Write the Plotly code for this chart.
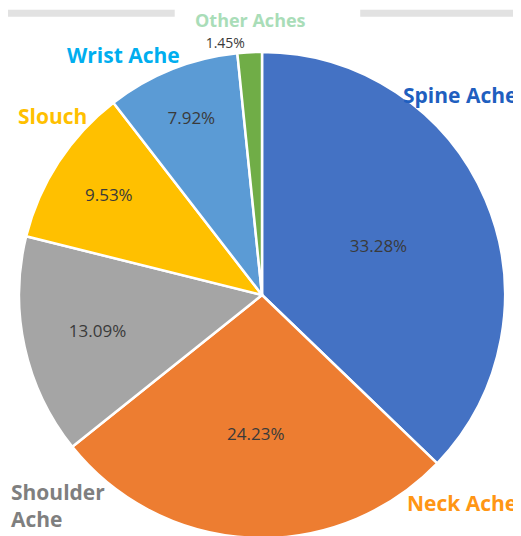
import plotly.graph_objects as go

categories = ["Spine Ache", "Neck Ache", "Shoulder Ache", "Slouch", "Wrist Ache", "Other Aches"]
percent_values = [33.28, 24.23, 13.09, 9.53, 7.92, 1.45]
slice_colors = ["#4472C4", "#ED7D31", "#A5A5A5", "#FFC000", "#5B9BD5", "#70AD47"]
label_colors = ["#1F5FBF", "#FF9614", "#7F7F7F", "#FFC000", "#00AEEF", "#A9DDB8"]
label_texts = ["Spine Ache", "Neck Ache", "Shoulder<br>Ache", "Slouch", "Wrist Ache", "Other Aches"]

pct_text = [f"{v:.2f}%" for v in percent_values]
positions = ["inside"] * (len(percent_values) - 1) + ["outside"]

fig = go.Figure()
fig.add_trace(go.Pie(
    labels=categories,
    values=percent_values,
    text=pct_text,
    textinfo="text",
    textposition=positions,
    insidetextorientation="horizontal",
    insidetextfont=dict(family="Open Sans", size=17, color="#3A3A3A"),
    outsidetextfont=dict(family="Open Sans", size=14, color="#3A3A3A"),
    marker=dict(colors=slice_colors, line=dict(color="white", width=2.5)),
    sort=False,
    direction="clockwise",
    rotation=0,
    showlegend=False,
    hoverinfo="label+text",
    domain=dict(x=[0.0211, 0.954], y=[0.0112, 0.918]),
))

# outside category labels (page body has an 8px offset, compensated here)
label_pos = [
    (0.981, 0.838, "right", 21),
    (0.981, 0.0765, "right", 21),
    (0.002, 0.071, "left", 21),
    (0.015, 0.799, "left", 21),
    (0.109, 0.912, "left", 21),
    (0.466, 0.9776, "center", 18),
]
for txt, col, (x, y, xa, fs) in zip(label_texts, label_colors, label_pos):
    fig.add_annotation(
        text=f"<b>{txt}</b>", x=x, y=y, xref="paper", yref="paper",
        xanchor=xa, yanchor="middle", showarrow=False, align="left",
        font=dict(family="Open Sans", size=fs, color=col),
    )

# faint top border shadow
for x0, x1 in [(0.0, 0.32), (0.676, 1.0)]:
    fig.add_shape(type="line", xref="paper", yref="paper", x0=x0, x1=x1,
                  y0=0.99, y1=0.99, line=dict(color="rgba(190,190,190,0.45)", width=7))

fig.update_layout(
    width=521, height=536,
    margin=dict(l=0, r=0, t=0, b=0),
    paper_bgcolor="white", plot_bgcolor="white",
)

fig.write_html("out.html")
